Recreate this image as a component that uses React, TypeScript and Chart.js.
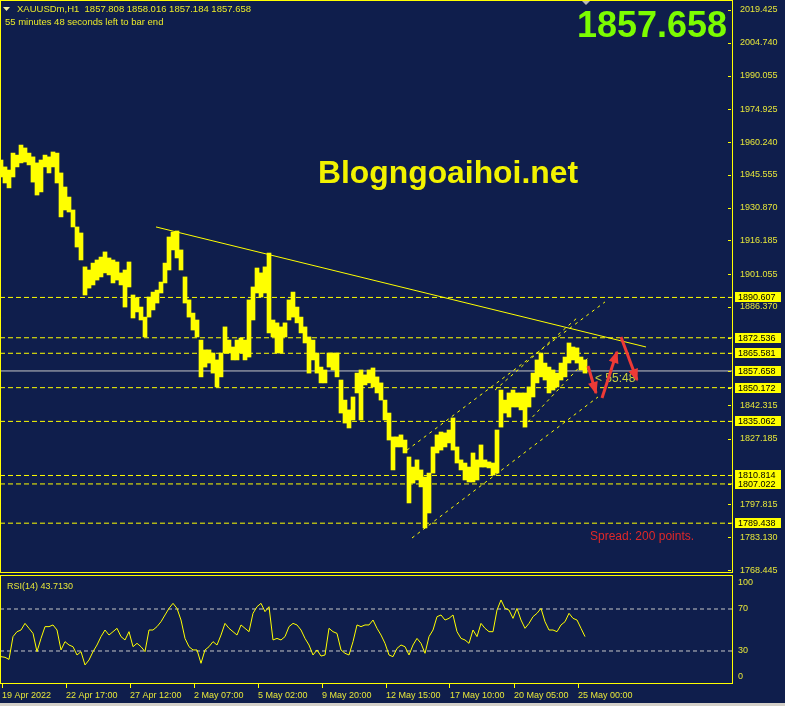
import React, { useEffect, useRef } from "react";
import { Chart, registerables } from "chart.js";
Chart.register(...registerables);

const BG = "#0F1E4C";
const YELLOW = "#FFFF00";
const AXIS_TEXT = "#E6E63A";
const RED = "#EE3A36";
const GREY = "#C8C8C8";
const FONT = '"Liberation Sans", Arial, sans-serif';

// H1 bars, grouped 4 bars per mark (x = bar number)
const BAR_STEP = 4;
const priceHigh = [
  1952.2, 1949.1, 1947.7, 1955.3, 1954.4, 1958.9, 1957.6, 1955.3, 1953.6, 1950.9,
  1952.2, 1954.4, 1953.6, 1955.8, 1955.3, 1946.4, 1940.1, 1935.6, 1929.8, 1922.2,
  1919.5, 1904.3, 1902.9, 1906.0, 1907.4, 1908.7, 1911.0, 1908.3, 1907.4, 1906.5,
  1901.6, 1902.9, 1906.5, 1891.7, 1890.4, 1886.3, 1881.8, 1890.8, 1893.0, 1893.9,
  1897.5, 1906.0, 1917.7, 1919.9, 1920.4, 1911.9, 1899.8, 1889.5, 1883.6, 1880.5,
  1871.5, 1867.1, 1867.1, 1865.7, 1862.6, 1865.7, 1877.4, 1871.5, 1868.4, 1871.5,
  1872.4, 1871.5, 1889.5, 1895.3, 1903.8, 1901.6, 1904.3, 1910.5, 1880.5, 1879.2,
  1877.4, 1879.2, 1889.5, 1893.0, 1886.3, 1881.8, 1877.4, 1872.9, 1871.5, 1865.7,
  1859.4, 1858.1, 1865.7, 1865.7, 1865.7, 1853.6, 1844.6, 1840.2, 1846.0, 1856.7,
  1858.1, 1855.9, 1858.1, 1859.0, 1855.0, 1852.3, 1844.6, 1838.8, 1828.1, 1828.1,
  1829.0, 1826.7, 1819.1, 1814.6, 1817.8, 1813.3, 1810.1, 1811.9, 1823.6, 1829.0,
  1830.3, 1829.9, 1831.2, 1836.6, 1823.6, 1817.8, 1816.4, 1814.6, 1820.9, 1817.8,
  1824.5, 1817.8, 1816.9, 1816.4, 1831.2, 1849.1, 1844.6, 1847.8, 1849.1, 1847.8,
  1847.8, 1847.8, 1850.5, 1856.7, 1862.6, 1865.7, 1861.2, 1859.4, 1858.1, 1856.7,
  1861.2, 1863.9, 1870.2, 1868.4, 1868.0, 1863.9, 1862.6,
];
const priceLow = [
  1944.6, 1941.9, 1939.7, 1944.6, 1949.1, 1950.9, 1951.3, 1950.0, 1942.3, 1936.5,
  1937.9, 1949.1, 1946.4, 1949.1, 1941.9, 1926.7, 1929.8, 1928.9, 1922.2, 1913.2,
  1907.4, 1891.7, 1894.8, 1896.2, 1898.4, 1899.8, 1901.6, 1900.7, 1897.1, 1898.4,
  1896.2, 1886.3, 1895.3, 1881.4, 1884.1, 1880.5, 1872.9, 1881.8, 1885.0, 1888.1,
  1892.6, 1897.1, 1902.9, 1911.9, 1908.3, 1902.9, 1888.1, 1881.8, 1876.0, 1872.9,
  1855.0, 1859.4, 1861.2, 1856.7, 1850.5, 1855.0, 1865.7, 1865.7, 1862.6, 1862.6,
  1865.7, 1862.6, 1863.9, 1880.5, 1892.6, 1890.8, 1892.6, 1874.7, 1872.9, 1865.7,
  1865.7, 1872.9, 1880.5, 1881.8, 1879.2, 1874.7, 1870.2, 1856.7, 1862.6, 1856.7,
  1852.3, 1852.3, 1859.4, 1858.1, 1855.0, 1838.8, 1834.3, 1832.1, 1835.7, 1847.8,
  1835.7, 1851.4, 1852.3, 1850.5, 1847.8, 1844.6, 1835.7, 1826.7, 1813.3, 1823.6,
  1823.6, 1820.9, 1798.5, 1807.4, 1808.8, 1805.7, 1787.3, 1794.0, 1811.9, 1820.9,
  1822.2, 1823.6, 1825.4, 1822.2, 1816.4, 1813.3, 1808.8, 1807.9, 1807.9, 1808.8,
  1814.6, 1814.6, 1814.2, 1811.0, 1811.9, 1832.5, 1838.8, 1837.0, 1841.5, 1841.5,
  1840.2, 1832.5, 1841.5, 1846.0, 1852.3, 1855.0, 1853.6, 1847.8, 1849.1, 1850.5,
  1853.6, 1855.0, 1861.2, 1862.6, 1861.2, 1858.1, 1856.7,
];
const rsiValues = [
  24.6, 24.0, 22.0, 43.7, 48.4, 50.0, 56.3, 51.6, 46.8, 29.4,
  42.0, 53.2, 53.2, 54.8, 50.0, 31.0, 38.9, 35.7, 34.1, 26.2,
  29.4, 16.7, 21.4, 29.4, 35.7, 43.7, 50.0, 45.2, 48.4, 51.6,
  43.7, 40.5, 48.4, 34.1, 37.3, 34.1, 29.4, 50.0, 50.0, 53.2,
  57.9, 64.3, 70.6, 75.4, 70.6, 59.5, 42.0, 34.1, 31.0, 31.0,
  18.3, 31.0, 34.1, 38.9, 35.7, 45.2, 56.3, 51.6, 48.4, 45.2,
  54.8, 51.6, 48.4, 65.9, 72.2, 75.4, 67.5, 72.2, 40.5, 42.0,
  40.5, 43.7, 53.2, 56.3, 54.8, 50.0, 42.0, 35.7, 26.2, 31.0,
  25.2, 26.2, 51.6, 48.4, 46.8, 31.0, 27.8, 26.2, 38.9, 54.8,
  53.2, 54.8, 54.8, 59.5, 51.6, 45.2, 37.3, 26.2, 24.6, 32.5,
  35.7, 34.1, 26.2, 35.7, 42.0, 37.3, 27.8, 43.7, 50.0, 62.7,
  64.3, 59.5, 61.1, 64.3, 48.4, 42.0, 40.5, 37.3, 50.0, 43.7,
  56.3, 51.6, 48.4, 48.4, 69.0, 78.6, 70.6, 69.0, 61.1, 70.6,
  59.5, 51.6, 56.3, 62.7, 65.9, 70.6, 57.9, 50.0, 50.0, 48.4,
  54.8, 57.9, 65.9, 61.1, 59.5, 51.6, 43.7,
];
const barIndex = priceHigh.map((_, i) => i * BAR_STEP);

const priceAxisTicks = [
  2019.425, 2004.74, 1990.055, 1974.925, 1960.24, 1945.555, 1930.87, 1916.185,
  1901.055, 1886.37, 1842.315, 1827.185, 1797.815, 1783.13, 1768.445,
];
const levelPrices = [1890.607, 1872.536, 1865.581, 1850.172, 1835.062, 1810.814, 1807.022, 1789.438];
const bidPrice = 1857.658;

const timeTickIndex = [1, 65, 129, 193, 257, 321, 385, 449, 513, 577];
const timeLabels = [
  "19 Apr 2022", "22 Apr 17:00", "27 Apr 12:00", "2 May 07:00", "5 May 02:00",
  "9 May 20:00", "12 May 15:00", "17 May 10:00", "20 May 05:00", "25 May 00:00",
];
const rsiLevels = [70, 30];
const rsiAxisLabels = [100, 70, 30, 0];
const rsiLast = "43.7130";

const trendX = [155, 645];
const trendY = [1922.2, 1868.4];
const channelUpperX = [406, 604];
const channelUpperY = [1822.2, 1888.6];
const channelLowerX = [411, 597];
const channelLowerY = [1782.8, 1846.0];
const innerUpperX = [494, 576];
const innerUpperY = [1849.1, 1881.4];
const innerLowerX = [522, 587];
const innerLowerY = [1832.5, 1863.5];

const arrow1X = [587, 595];
const arrow1Y = [1859.9, 1847.8];
const arrow2X = [601, 616];
const arrow2Y = [1845.5, 1866.2];
const arrow3X = [620, 636];
const arrow3Y = [1872.9, 1853.6];

const X_MIN = -1;
const X_MAX = 732;
const PRICE_MAX = 2023.907;
const PRICE_MIN = 1767.11;
const RSI_MAX = 101.43;
const RSI_MIN = -1.43;

const toPts = (xs: number[], ys: number[]) => xs.map((x, i) => ({ x, y: ys[i] }));

const lineDs = (pts: any[], color: string, width: number, dash: number[] = []) => ({
  type: "line",
  data: pts,
  borderColor: color,
  borderWidth: width,
  borderDash: dash,
  pointRadius: 0,
  fill: false,
  tension: 0,
});

const arrowSets = [
  [arrow1X, arrow1Y],
  [arrow2X, arrow2Y],
  [arrow3X, arrow3Y],
];

const mainPlugin = {
  id: "mt4main",
  beforeDraw(chart: any) {
    const { ctx, width, height } = chart;
    ctx.save();
    ctx.fillStyle = BG;
    ctx.fillRect(0, 0, width, height);
    ctx.restore();
  },
  beforeDatasetsDraw(chart: any) {
    const { ctx } = chart;
    ctx.save();
    ctx.fillStyle = "#F0F0A0";
    ctx.beginPath();
    ctx.moveTo(3, 7);
    ctx.lineTo(10, 7);
    ctx.lineTo(6.5, 11);
    ctx.closePath();
    ctx.fill();
    ctx.fillStyle = "#EAEA2A";
    ctx.font = `9.5px ${FONT}`;
    ctx.textBaseline = "alphabetic";
    ctx.textAlign = "left";
    ctx.fillText("XAUUSDm,H1  1857.808 1858.016 1857.184 1857.658", 17, 12);
    ctx.fillText("55 minutes 48 seconds left to bar end", 5, 25);
    ctx.fillStyle = "#F2F200";
    ctx.font = `bold 32px ${FONT}`;
    ctx.fillText("Blogngoaihoi.net", 318, 183, 260);
    ctx.fillStyle = "#C8D23C";
    ctx.font = `12px ${FONT}`;
    ctx.fillText("< 55:48", 595, 382);
    ctx.fillStyle = "#E02828";
    ctx.font = `12px ${FONT}`;
    ctx.fillText("Spread: 200 points.", 590, 540);
    ctx.restore();
  },
  afterDatasetsDraw(chart: any) {
    const { ctx } = chart;
    const xs = chart.scales.x;
    const ys = chart.scales.y;
    ctx.save();
    ctx.fillStyle = RED;
    arrowSets.forEach(([ax, ay]) => {
      const x0 = xs.getPixelForValue(ax[0]);
      const y0 = ys.getPixelForValue(ay[0]);
      const x1 = xs.getPixelForValue(ax[1]);
      const y1 = ys.getPixelForValue(ay[1]);
      const a = Math.atan2(y1 - y0, x1 - x0);
      const len = 11;
      const hw = 5;
      const bx = x1 - len * Math.cos(a);
      const by = y1 - len * Math.sin(a);
      ctx.beginPath();
      ctx.moveTo(x1 + 1.5 * Math.cos(a), y1 + 1.5 * Math.sin(a));
      ctx.lineTo(bx + hw * Math.sin(a), by - hw * Math.cos(a));
      ctx.lineTo(bx - hw * Math.sin(a), by + hw * Math.cos(a));
      ctx.closePath();
      ctx.fill();
    });
    ctx.restore();
  },
  afterDraw(chart: any) {
    const { ctx } = chart;
    const ys = chart.scales.y;
    const area = chart.chartArea;
    ctx.save();
    ctx.strokeStyle = YELLOW;
    ctx.lineWidth = 1;
    ctx.strokeRect(0.5, 0.5, area.right - 1, area.bottom - 1);
    ctx.fillStyle = YELLOW;
    [...priceAxisTicks, ...levelPrices, bidPrice].forEach((v) => {
      const y = Math.round(ys.getPixelForValue(v));
      ctx.fillRect(area.right - 5, y, 3, 1);
    });
    ctx.font = `9px ${FONT}`;
    ctx.textBaseline = "middle";
    ctx.textAlign = "left";
    [...levelPrices, bidPrice].forEach((v) => {
      const y = ys.getPixelForValue(v);
      ctx.fillStyle = YELLOW;
      ctx.fillRect(area.right + 2, Math.round(y) - 5, 46, 10);
      ctx.fillStyle = "#000000";
      ctx.fillText(v.toFixed(3), area.right + 5, y + 0.5);
    });
    ctx.fillStyle = "#B8B8B8";
    ctx.beginPath();
    ctx.moveTo(582, 1);
    ctx.lineTo(590, 1);
    ctx.lineTo(586, 5);
    ctx.closePath();
    ctx.fill();
    ctx.fillStyle = "#7CFC00";
    ctx.font = `bold 37px ${FONT}`;
    ctx.textBaseline = "alphabetic";
    ctx.fillText(bidPrice.toFixed(3), 577, 37, 150);
    ctx.restore();
  },
};

const rsiPlugin = {
  id: "mt4rsi",
  beforeDraw(chart: any) {
    const { ctx, width, height } = chart;
    ctx.save();
    ctx.fillStyle = BG;
    ctx.fillRect(0, 0, width, height);
    ctx.restore();
  },
  afterDraw(chart: any) {
    const { ctx } = chart;
    const ys = chart.scales.y;
    const area = chart.chartArea;
    ctx.save();
    ctx.strokeStyle = YELLOW;
    ctx.lineWidth = 1;
    ctx.strokeRect(0.5, area.top - 0.5, area.right - 1, area.bottom - area.top);
    ctx.fillStyle = AXIS_TEXT;
    ctx.font = `9px ${FONT}`;
    ctx.textBaseline = "alphabetic";
    ctx.textAlign = "left";
    ctx.fillText(`RSI(14) ${rsiLast}`, 7, area.top + 13);
    ctx.textBaseline = "middle";
    rsiAxisLabels.forEach((v) => {
      let y = ys.getPixelForValue(v);
      y = Math.max(area.top + 7, Math.min(area.bottom - 7, y));
      ctx.fillText(String(v), area.right + 5, y);
    });
    ctx.restore();
  },
};

export default function App() {
  const mainRef = useRef<HTMLCanvasElement | null>(null);
  const rsiRef = useRef<HTMLCanvasElement | null>(null);

  useEffect(() => {
    const mainChart = new Chart(mainRef.current as HTMLCanvasElement, {
      type: "bar",
      data: {
        datasets: [
          ...arrowSets.map(([ax, ay]) => lineDs(toPts(ax, ay), RED, 3)),
          {
            type: "bar",
            data: barIndex.map((x, i) => ({ x, y: [priceLow[i], priceHigh[i]] })),
            backgroundColor: YELLOW,
            borderWidth: 0,
            barThickness: 4,
          },
          lineDs(toPts(trendX, trendY), YELLOW, 1),
          lineDs(toPts(channelUpperX, channelUpperY), YELLOW, 1, [3, 4]),
          lineDs(toPts(channelLowerX, channelLowerY), YELLOW, 1, [3, 4]),
          lineDs(toPts(innerUpperX, innerUpperY), YELLOW, 1, [3, 4]),
          lineDs(toPts(innerLowerX, innerLowerY), YELLOW, 1, [3, 4]),
          ...levelPrices.map((v) =>
            lineDs([{ x: X_MIN, y: v }, { x: X_MAX, y: v }], YELLOW, 1, [5, 3])
          ),
          lineDs([{ x: X_MIN, y: bidPrice }, { x: X_MAX, y: bidPrice }], GREY, 1),
        ] as any,
      },
      options: {
        responsive: false,
        animation: false,
        devicePixelRatio: 1,
        events: [],
        layout: { padding: 0 },
        plugins: { legend: { display: false }, tooltip: { enabled: false } },
        scales: {
          x: { type: "linear", min: X_MIN, max: X_MAX, offset: false, display: false },
          y: {
            position: "right",
            min: PRICE_MIN,
            max: PRICE_MAX,
            beginAtZero: false,
            afterBuildTicks: (s: any) => {
              s.ticks = priceAxisTicks.map((v) => ({ value: v }));
            },
            afterFit: (s: any) => {
              s.width = 52;
              s.paddingTop = 0;
              s.paddingBottom = 0;
            },
            grid: { display: false, drawTicks: false },
            border: { display: false },
            ticks: {
              color: AXIS_TEXT,
              font: { family: FONT, size: 9 },
              padding: 7,
              autoSkip: false,
              callback: (v: any) => Number(v).toFixed(3),
            },
          },
        },
      } as any,
      plugins: [mainPlugin],
    });

    const rsiChart = new Chart(rsiRef.current as HTMLCanvasElement, {
      type: "line",
      data: {
        datasets: [
          lineDs(barIndex.map((x, i) => ({ x, y: rsiValues[i] })), YELLOW, 1),
          ...rsiLevels.map((v) =>
            lineDs([{ x: X_MIN, y: v }, { x: X_MAX, y: v }], GREY, 1, [4, 3])
          ),
        ] as any,
      },
      options: {
        responsive: false,
        animation: false,
        devicePixelRatio: 1,
        events: [],
        layout: { padding: { top: 3, left: 0, right: 0, bottom: 0 } },
        plugins: { legend: { display: false }, tooltip: { enabled: false } },
        scales: {
          x: {
            type: "linear",
            min: X_MIN,
            max: X_MAX,
            offset: false,
            afterBuildTicks: (s: any) => {
              s.ticks = timeTickIndex.map((v) => ({ value: v }));
            },
            afterFit: (s: any) => {
              s.height = 22;
              s.paddingLeft = 0;
              s.paddingRight = 0;
            },
            grid: { display: true, drawOnChartArea: false, drawTicks: true, tickLength: 4, color: YELLOW },
            border: { display: false },
            ticks: {
              color: AXIS_TEXT,
              font: { family: FONT, size: 9 },
              padding: 2,
              align: "start",
              maxRotation: 0,
              minRotation: 0,
              autoSkip: false,
              callback: (_v: any, i: number) => timeLabels[i],
            },
          },
          y: {
            position: "right",
            min: RSI_MIN,
            max: RSI_MAX,
            afterFit: (s: any) => {
              s.width = 52;
              s.paddingTop = 0;
              s.paddingBottom = 0;
            },
            grid: { display: false, drawTicks: false },
            border: { display: false },
            ticks: { display: false },
          },
        },
      } as any,
      plugins: [rsiPlugin],
    });

    return () => {
      mainChart.destroy();
      rsiChart.destroy();
    };
  }, []);

  return (
    <div
      style={{
        position: "fixed",
        left: 0,
        top: 0,
        width: 785,
        height: 706,
        background: BG,
        overflow: "hidden",
      }}
    >
      <canvas
        ref={mainRef}
        width={785}
        height={573}
        style={{ position: "absolute", left: 0, top: 0, width: 785, height: 573 }}
      />
      <canvas
        ref={rsiRef}
        width={785}
        height={133}
        style={{ position: "absolute", left: 0, top: 573, width: 785, height: 133 }}
      />
      <div
        style={{ position: "absolute", left: 0, top: 703, width: 785, height: 3, background: "#D4D0C8" }}
      />
    </div>
  );
}
